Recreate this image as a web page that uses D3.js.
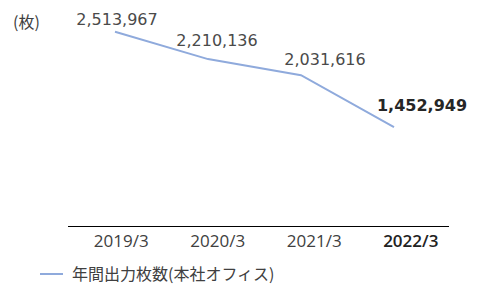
<!DOCTYPE html>
<html>
<head>
<meta charset="utf-8">
<script src="https://cdn.jsdelivr.net/npm/d3@7"></script>
<style>
  html, body { margin: 0; padding: 0; background: #fff; }
</style>
</head>
<body>
<svg id="chart"></svg>
<script>
// data
const categories = ['2019/3', '2020/3', '2021/3', '2022/3'];
const sheets = [2513967, 2210136, 2031616, 1452949];
const seriesName = '年間出力枚数(本社オフィス)';
const unitLabel = '(枚)';

// label nudges (px) relative to each point
const labelDx = [2, 9, 24, 28];
const labelDy = [-7, -13, -10, -16];

const svg = d3.select('#chart')
  .attr('width', 479)
  .attr('height', 291);

const lineColor = '#8faadc';

// x: band for category labels, point for the line
const xBand = d3.scaleBand()
  .domain(categories)
  .range([73, 459]);

const xPoint = d3.scalePoint()
  .domain(categories)
  .range([115, 394]);

const y = d3.scaleLinear()
  .domain([1000000, 3000000])
  .range([168, -12]);

// baseline axis
svg.append('line')
  .attr('x1', 68).attr('x2', 449)
  .attr('y1', 226.5).attr('y2', 226.5)
  .attr('stroke', '#000')
  .attr('stroke-width', 1.2);

svg.append('g')
  .selectAll('text')
  .data(categories)
  .join('text')
  .attr('x', d => xBand(d) + xBand.bandwidth() / 2)
  .attr('y', 247)
  .attr('text-anchor', 'middle')
  .style('font-family', '"Open Sans", sans-serif')
  .style('font-size', '17px')
  .style('font-weight', (d, i) => i === categories.length - 1 ? 600 : 400)
  .attr('fill', (d, i) => i === categories.length - 1 ? '#222' : '#404040')
  .text(d => d);

// line
const line = d3.line()
  .x((d, i) => xPoint(categories[i]))
  .y(d => y(d));

svg.append('path')
  .datum(sheets)
  .attr('fill', 'none')
  .attr('stroke', lineColor)
  .attr('stroke-width', 2)
  .attr('d', line);

// value labels
svg.append('g')
  .selectAll('text')
  .data(sheets)
  .join('text')
  .attr('x', (d, i) => xPoint(categories[i]) + labelDx[i])
  .attr('y', (d, i) => y(d) + labelDy[i])
  .attr('text-anchor', 'middle')
  .style('font-family', '"DejaVu Sans", sans-serif')
  .style('font-size', '16px')
  .style('font-weight', (d, i) => i === sheets.length - 1 ? 700 : 400)
  .attr('fill', (d, i) => i === sheets.length - 1 ? '#262626' : '#4a4a4a')
  .text(d => d3.format(',')(d));

// unit
svg.append('text')
  .attr('x', 13)
  .attr('y', 28)
  .style('font-family', '"Noto Sans CJK JP", sans-serif')
  .style('font-size', '16px')
  .attr('fill', '#404040')
  .text(unitLabel);

// legend
const legend = svg.append('g').attr('transform', 'translate(40,274)');
legend.append('line')
  .attr('x1', 0).attr('x2', 23)
  .attr('stroke', lineColor)
  .attr('stroke-width', 2);
legend.append('text')
  .attr('x', 32)
  .attr('y', 6)
  .style('font-family', '"Noto Sans CJK JP", sans-serif')
  .style('font-size', '16px')
  .attr('fill', '#404040')
  .text(seriesName);
</script>
</body>
</html>
